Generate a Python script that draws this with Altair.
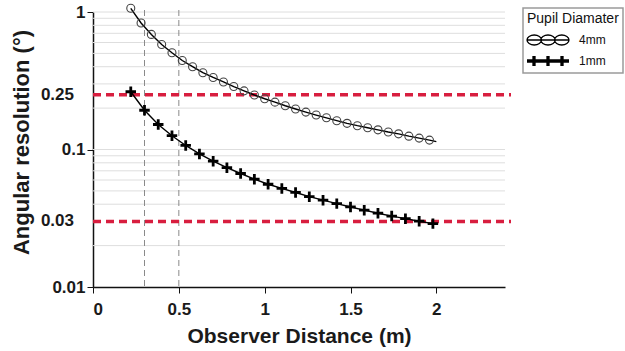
import altair as alt
import pandas as pd

SERIES = ["4mm", "1mm"]

# 4 mm pupil: marker positions (m) and angular resolution (deg)
X_4MM = [0.22, 0.28, 0.34, 0.40, 0.46, 0.52, 0.58, 0.64, 0.70, 0.76,
         0.82, 0.88, 0.94, 1.00, 1.06, 1.12, 1.18, 1.24, 1.30, 1.36,
         1.42, 1.48, 1.54, 1.60, 1.66, 1.72, 1.78, 1.84, 1.90, 1.96]
Y_4MM = [1.064, 0.832, 0.687, 0.580, 0.505, 0.444, 0.400, 0.362, 0.334, 0.310,
         0.287, 0.267, 0.249, 0.234, 0.221, 0.208, 0.197, 0.187, 0.178, 0.170,
         0.162, 0.155, 0.149, 0.144, 0.139, 0.134, 0.130, 0.125, 0.121, 0.117]
LINE_END_4MM_X = [2.00]
LINE_END_4MM_Y = [0.114]

# 1 mm pupil
X_1MM = [0.22, 0.30, 0.38, 0.46, 0.54, 0.62, 0.70, 0.78, 0.86, 0.94,
         1.02, 1.10, 1.18, 1.26, 1.34, 1.42, 1.50, 1.58, 1.66, 1.74,
         1.82, 1.90, 1.98]
Y_1MM = [0.263, 0.193, 0.152, 0.126, 0.107, 0.0928, 0.0822, 0.0737, 0.0669, 0.0608,
         0.0559, 0.0521, 0.0487, 0.0454, 0.0428, 0.0404, 0.0382, 0.0362, 0.0344, 0.0328,
         0.0314, 0.0301, 0.0289]

REF_LEVELS = [0.25, 0.03]
REF_LABELS = ["0.25", "0.03"]
VLINES = [0.3, 0.5]
GRID_VALUES = [1, 0.9, 0.8, 0.7, 0.6, 0.5, 0.4, 0.3, 0.2, 0.1,
               0.09, 0.08, 0.07, 0.06, 0.05, 0.04, 0.02]
Y_TICKS = [1, 0.1, 0.01]
X_TICKS = [0, 0.5, 1, 1.5, 2]

FONT = "Liberation Sans"
W, H = 412, 275

pts4 = pd.DataFrame({"d": X_4MM, "v": Y_4MM})
pts1 = pd.DataFrame({"d": X_1MM, "v": Y_1MM})
lines = pd.DataFrame({
    "d": X_4MM + LINE_END_4MM_X + X_1MM,
    "v": Y_4MM + LINE_END_4MM_Y + Y_1MM,
    "series": ["4mm"] * (len(X_4MM) + 1) + ["1mm"] * len(X_1MM),
})
grid = pd.DataFrame({"v": GRID_VALUES})
refs = pd.DataFrame({"v": REF_LEVELS, "label": REF_LABELS})
vl = pd.DataFrame({"d": VLINES})

xscale = alt.Scale(domain=[0, 2.4], nice=False, zero=False)
yscale = alt.Scale(type="log", domain=[0.01, 1], nice=False)

xaxis = alt.Axis(values=X_TICKS, format="~g", grid=False, tickSize=6, labelPadding=8,
                 labelFontSize=17, labelFontWeight="bold", labelFont=FONT, labelColor="#1a1a1a",
                 titleFontSize=21, titleFontWeight="bold", titleFont=FONT, titleColor="#1a1a1a",
                 titleY=38, domainColor="#111", domainWidth=1.5, tickColor="#111")
yaxis = alt.Axis(values=Y_TICKS, format="~g", grid=False, tickSize=6, labelPadding=2,
                 labelFontSize=17, labelFontWeight="bold", labelFont=FONT, labelColor="#1a1a1a",
                 titleFontSize=22, titleFontWeight="bold", titleFont=FONT, titleColor="#1a1a1a",
                 titleX=-60, titleY=130, domainColor="#111", domainWidth=1.5, tickColor="#111")

gridlines = alt.Chart(grid).mark_rule(color="#dedede", strokeWidth=1).encode(
    y=alt.Y("v:Q", scale=yscale), x=alt.value(0), x2=alt.value(W))

vlines = alt.Chart(vl).mark_rule(color="#8a8a8a", strokeWidth=1, strokeDash=[6, 4]).encode(
    x=alt.X("d:Q", scale=xscale), y=alt.value(-2), y2=alt.value(H))

redlines = alt.Chart(refs).mark_rule(color="#d81e3f", strokeWidth=3.5, strokeDash=[8, 5]).encode(
    y=alt.Y("v:Q", scale=yscale), x=alt.value(0), x2=alt.value(W + 6))

reflabels = alt.Chart(refs).mark_text(align="right", baseline="middle", font=FONT, fontSize=17,
                                      fontWeight="bold", color="#1a1a1a").encode(
    y=alt.Y("v:Q", scale=yscale), x=alt.value(-19), text="label:N")


def ell(cx, rx, ry):
    return (f"M{cx + rx},0A{rx},{ry} 0 1 0 {cx - rx},0"
            f"A{rx},{ry} 0 1 0 {cx + rx},0")


SYM4 = "M-4.2,0L4.2,0" + ell(-2.75, 1.45, 1.0) + ell(0, 1.45, 1.0) + ell(2.75, 1.45, 1.0)
SYM1 = ("M-4.2,-0.2L4.2,-0.2M-4.2,0L4.2,0M-4.2,0.2L4.2,0.2"
        "M-3,-1L-3,1M-2.8,-1L-2.8,1M-2.6,-1L-2.6,1"
        "M-0.2,-1L-0.2,1M0,-1L0,1M0.2,-1L0.2,1"
        "M2.6,-1L2.6,1M2.8,-1L2.8,1M3,-1L3,1")

legend = alt.Legend(
    title="Pupil Diamater", orient="none", legendX=430, legendY=-4,
    titleFont=FONT, titleFontSize=14, titleFontWeight="normal", titleColor="#111",
    titlePadding=8, labelFont=FONT, labelFontSize=12, labelColor="#111",
    symbolSize=100, symbolStrokeWidth=1.3, symbolOffset=15, labelOffset=25,
    symbolFillColor="transparent", symbolStrokeColor="#111",
    symbolType={"expr": f"datum.value === '4mm' ? '{SYM4}' : '{SYM1}'"},
    rowPadding=5, padding=4, strokeColor="#9a9a9a",
)

curves = alt.Chart(lines).mark_line(strokeWidth=1.4).encode(
    x=alt.X("d:Q", scale=xscale, axis=xaxis, title="Observer Distance (m)"),
    y=alt.Y("v:Q", scale=yscale, axis=yaxis, title="Angular resolution (°)"),
    color=alt.Color("series:N", scale=alt.Scale(domain=SERIES, range=["black", "black"]), legend=legend),
    order="d:Q",
)

PLUS = "M-1,0L1,0M0,-1L0,1"

circles = alt.Chart(pts4).mark_point(shape="circle", filled=False, size=64, strokeWidth=1.1,
                                     color="#444444", opacity=1).encode(
    x=alt.X("d:Q", scale=xscale), y=alt.Y("v:Q", scale=yscale))

plusses = alt.Chart(pts1).mark_point(shape=PLUS, filled=False, size=110, strokeWidth=2.8,
                                     color="#000000", opacity=1).encode(
    x=alt.X("d:Q", scale=xscale), y=alt.Y("v:Q", scale=yscale))

chart = alt.layer(gridlines, vlines, redlines, curves, circles, plusses, reflabels).properties(
    width=W, height=H,
    autosize=alt.AutoSizeParams(type="none"),
    padding={"left": 93, "top": 12, "right": 625 - 93 - W, "bottom": 351 - 12 - H},
    background="white",
).configure_view(stroke=None).configure_legend(strokeWidth=1.5)

chart.save("out.html", embed_options={"renderer": "svg", "actions": False})
